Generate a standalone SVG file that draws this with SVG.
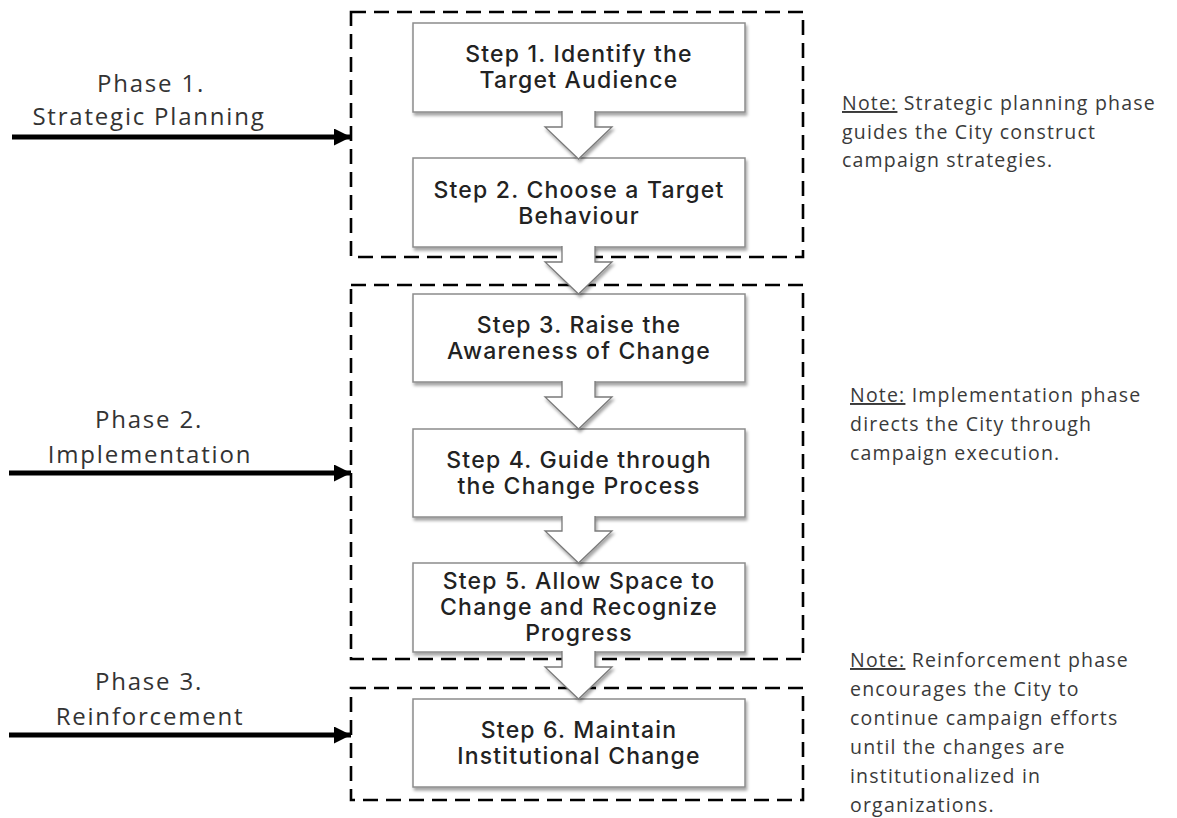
<svg xmlns="http://www.w3.org/2000/svg" width="1177" height="818" viewBox="0 0 1177 818">
<defs>
<filter id="sh" x="-10%" y="-10%" width="130%" height="140%">
<feDropShadow dx="1.5" dy="3" stdDeviation="1.8" flood-color="#000" flood-opacity="0.35"/>
</filter>
<marker id="ah" viewBox="0 0 10 10" refX="10" refY="5" markerWidth="3.4" markerHeight="3.4" orient="auto" markerUnits="strokeWidth">
<path d="M0,0 L10,5 L0,10 z" fill="#000"/>
</marker>
</defs>
<style>
.frame{fill:none;stroke:#000;stroke-width:2.6;stroke-dasharray:15 8}
.box{fill:#fff;stroke:#8c8c8c;stroke-width:1.5}
.blk{fill:#fff;stroke:#7a7a7a;stroke-width:1.3}
.st{font-family:Inter,"Open Sans","Liberation Sans",sans-serif;font-weight:500;font-size:23px;fill:#222;text-anchor:middle;letter-spacing:1.2px}
.ph{font-family:"Open Sans","Liberation Sans",sans-serif;font-size:24px;fill:#333;text-anchor:middle;letter-spacing:1.8px}
.nt{font-family:"Open Sans","Liberation Sans",sans-serif;font-size:19.5px;fill:#3a3a3a;letter-spacing:1.2px}
.con{stroke:#000;stroke-width:5;fill:none}
</style>

<g id="frames">
<rect class="frame" x="351" y="12" width="452" height="245"/>
<rect class="frame" x="351" y="285" width="452" height="374"/>
<rect class="frame" x="351" y="688" width="452" height="112"/>
</g>

<g id="step1"><rect class="box" x="413" y="23" width="332" height="89" filter="url(#sh)"/>
<text class="st" x="579" y="62">Step 1. Identify the</text><text class="st" x="579" y="88">Target Audience</text></g>
<g id="step2"><rect class="box" x="413" y="158" width="332" height="89" filter="url(#sh)"/>
<text class="st" x="579" y="198">Step 2. Choose a Target</text><text class="st" x="579" y="224">Behaviour</text></g>
<g id="step3"><rect class="box" x="413" y="294" width="332" height="88" filter="url(#sh)"/>
<text class="st" x="579" y="333">Step 3. Raise the</text><text class="st" x="579" y="359">Awareness of Change</text></g>
<g id="step4"><rect class="box" x="413" y="429" width="332" height="88" filter="url(#sh)"/>
<text class="st" x="579" y="468">Step 4. Guide through</text><text class="st" x="579" y="494">the Change Process</text></g>
<g id="step5"><rect class="box" x="413" y="563" width="332" height="89" filter="url(#sh)"/>
<text class="st" x="579" y="589">Step 5. Allow Space to</text><text class="st" x="579" y="615">Change and Recognize</text><text class="st" x="579" y="641">Progress</text></g>
<g id="step6"><rect class="box" x="413" y="699" width="332" height="88" filter="url(#sh)"/>
<text class="st" x="579" y="738">Step 6. Maintain</text><text class="st" x="579" y="764">Institutional Change</text></g>

<g id="connectors">
<path class="blk" d="M562,111 V127 H545 L578.5,159 L612,127 H595 V111" filter="url(#sh)"/>
<path class="blk" d="M562,246 V262 H545 L578.5,294 L612,262 H595 V246" filter="url(#sh)"/>
<path class="blk" d="M562,381 V397 H545 L578.5,429 L612,397 H595 V381" filter="url(#sh)"/>
<path class="blk" d="M562,516 V531 H545 L578.5,563 L612,531 H595 V516" filter="url(#sh)"/>
<path class="blk" d="M562,651 V667 H545 L578.5,699 L612,667 H595 V651" filter="url(#sh)"/>
<line class="con" x1="12" y1="137" x2="351" y2="137" marker-end="url(#ah)"/>
<line class="con" x1="9" y1="473" x2="351" y2="473" marker-end="url(#ah)"/>
<line class="con" x1="9" y1="735" x2="351" y2="735" marker-end="url(#ah)"/>
</g>

<g id="phase1"><text class="ph" x="151" y="92">Phase 1.</text><text class="ph" x="149" y="125">Strategic Planning</text></g>
<g id="phase2"><text class="ph" x="149" y="428">Phase 2.</text><text class="ph" x="150" y="463">Implementation</text></g>
<g id="phase3"><text class="ph" x="149" y="690">Phase 3.</text><text class="ph" x="150" y="725">Reinforcement</text></g>

<g id="note1"><text class="nt" x="842" y="110"><tspan text-decoration="underline">Note:</tspan> Strategic planning phase</text>
<text class="nt" x="842" y="139">guides the City construct</text><text class="nt" x="842" y="167">campaign strategies.</text></g>
<g id="note2"><text class="nt" x="850" y="402"><tspan text-decoration="underline">Note:</tspan> Implementation phase</text>
<text class="nt" x="850" y="431">directs the City through</text><text class="nt" x="850" y="460">campaign execution.</text></g>
<g id="note3"><text class="nt" x="850" y="667"><tspan text-decoration="underline">Note:</tspan> Reinforcement phase</text>
<text class="nt" x="850" y="696">encourages the City to</text><text class="nt" x="850" y="725">continue campaign efforts</text>
<text class="nt" x="850" y="754">until the changes are</text><text class="nt" x="850" y="783">institutionalized in</text><text class="nt" x="850" y="812">organizations.</text></g>
</svg>
